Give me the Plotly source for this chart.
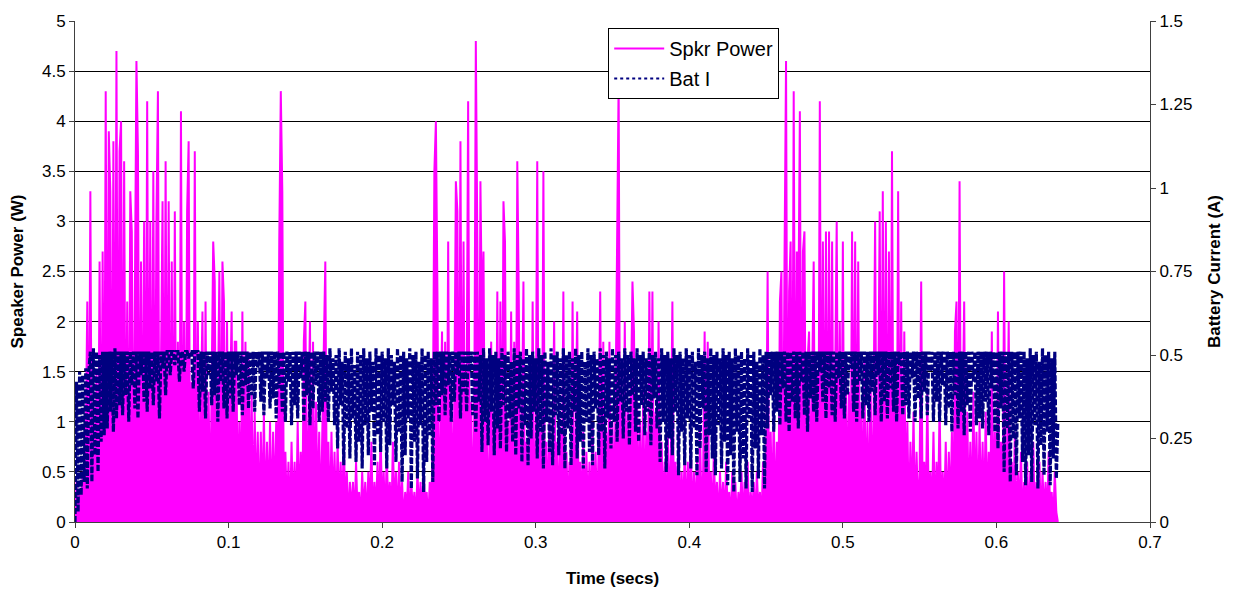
import plotly.graph_objects as go

# Sampling interval of the recorded signals (s)
SAMPLE_STEP = 0.001

# Speaker power, tenths of a watt, one value per sample
power_seg1 = [
    0,4,0,3,1,5,0,8,22,1, 33,0,12,1,15,0,26,1,27,0, 43,1,39,33,0,38,1,47,0,37,
    40,0,36,1,22,0,33,29,0,25, 46,37,0,26,1,30,0,42,1,30, 0,35,1,30,43,0,16,32,0,36,
    1,32,0,26,0,31,1,18,0,41, 0,20,1,31,38,0,14,1,37,0, 20,1,12,21,0,22,1,13,0,15,
    28,24,0,11,25,1,26,22,0,20, 1,12,21,0,18,18,1,10,0,21, 1,18,0,17,1,13,0,11,1,9,
    0,9,1,11,0,8,1,10,0,9, 1,10,0,28,43,33,0,7,1,6, 0,8,1,6,0,10,1,7,0,18,
    22,0,11,20,1,18,0,12,1,9,
]
power_seg2 = [
    0,10,18,26,1,8,0,9,1,7, 0,8,1,6,0,9,1,5,0,4, 1,4,0,6,1,3,0,5,1,4,
    0,5,1,8,0,4,1,6,0,9, 1,5,0,7,1,4,0,8,1,5, 0,6,1,4,0,3,1,5,0,4,
    1,3,0,5,1,4,0,6,1,3, 0,4,1,9,35,40,23,0,9,19, 0,18,1,28,0,14,1,12,34,31,
    0,38,1,28,0,13,42,1,12,0, 11,48,28,0,34,20,27,1,10,0, 9,18,0,11,1,23,0,22,1,32,
    28,0,10,1,21,0,18,1,36,22, 0,9,24,1,8,0,11,1,22,0, 8,36,0,9,1,35,0,8,1,10,
    0,7,20,1,8,0,9,1,23,0,
]
power_seg3 = [
    7,1,6,0,22,1,8,21,0,6, 1,9,0,7,1,6,0,10,1,7, 0,8,23,1,18,0,9,1,18,0,
    10,1,12,33,44,0,13,1,20,0, 11,1,14,24,19,0,12,1,10,0, 13,1,9,0,23,1,23,0,11,1,
    20,0,8,1,6,0,9,1,7,22, 0,6,1,9,0,5,1,7,0,6, 1,8,0,5,1,6,0,9,1,5,
    19,0,18,1,5,0,7,1,4,0, 5,1,4,0,6,1,3,0,5,1, 4,0,3,1,5,0,4,1,6,0,
    3,1,4,0,5,1,3,0,6,1, 4,25,0,9,1,11,0,8,1,22, 25,0,26,46,1,23,28,0,43,1,
    27,20,41,0,27,29,1,16,19,0,
]
power_seg4 = [
    14,26,0,15,1,42,0,28,1,29, 0,29,1,28,0,14,30,1,20,0, 28,0,15,1,13,0,29,1,28,0,
    26,1,12,0,16,1,10,0,15,1, 11,30,0,12,31,0,33,1,30,0, 27,0,37,1,12,0,33,1,22,0,
    19,1,10,0,8,1,11,0,7,1, 5,24,0,6,1,13,0,5,1,9, 0,6,1,12,0,5,1,8,0,7,
    1,9,0,19,22,1,34,0,10,22, 0,11,1,8,0,13,1,9,0,10, 1,8,0,11,1,7,0,19,1,9,
    0,21,1,8,0,25,1,7,20,0, 6,1,9,0,5,1,7,0,4,1, 6,0,5,1,8,0,4,1,6,0,
    5,1,4,0,7,1,3,0,5,1, 0,
]

# Battery current, hundredths of an amp, one value per sample
bat_seg1 = [
    0,42,3,45,8,44,12,46,10,45, 51,12,52,20,51,15,50,24,51,26, 51,28,51,33,51,27,52,31,51,35,
    51,32,51,38,51,30,51,41,51,34, 51,31,51,44,51,36,51,33,51,40, 51,35,51,42,51,31,51,46,51,38,
    51,51,44,51,51,47,51,51,42,51, 51,45,51,51,49,51,51,40,51,51, 51,33,51,39,51,31,51,44,51,35,
    51,38,51,30,51,42,51,34,51,31, 51,37,51,33,51,44,51,35,51,32, 51,41,51,34,51,38,51,33,51,46,
    51,36,51,32,51,43,51,34,51,37, 51,31,51,40,51,33,51,30,51,42, 51,29,51,35,51,31,51,43,51,30,
    51,38,51,29,51,34,51,41,51,30,
]
bat_seg2 = [
    51,33,51,36,50,30,52,39,49,29, 50,22,52,35,48,17,51,28,49,19, 52,31,47,18,51,24,50,16,52,29,
    49,20,51,33,48,17,52,26,50,21, 51,30,49,16,52,23,50,35,48,18, 52,27,50,12,51,20,49,31,52,10,
    50,24,51,13,48,29,52,9,50,18, 51,26,49,12,51,35,51,30,51,38, 51,32,51,41,51,30,51,36,51,44,
    51,31,51,39,51,33,51,45,51,32, 51,27,51,36,50,21,52,30,49,23, 52,33,50,20,51,28,49,22,52,35,
    50,21,51,31,48,24,52,20,50,34, 51,18,49,29,52,17,50,25,51,33, 49,19,52,27,50,16,51,30,48,21,
    52,17,50,32,51,20,49,26,52,16,
]
bat_seg3 = [
    50,28,51,17,49,33,52,19,50,24, 51,16,48,30,52,21,50,17,51,34, 49,20,52,27,50,16,51,31,49,22,
    52,30,50,24,51,36,49,25,52,33, 50,23,51,38,49,27,52,24,50,35, 51,26,49,33,52,23,50,37,51,28,
    49,18,52,30,50,15,51,25,49,20, 52,33,50,14,51,27,49,17,52,31, 50,16,51,28,48,14,52,22,50,34,
    51,15,49,26,52,19,50,14,51,29, 49,16,52,24,50,11,51,20,49,9, 52,27,50,12,51,19,49,10,52,31,
    50,9,51,22,48,13,52,26,50,10, 51,28,51,38,51,27,51,33,51,29, 51,40,51,30,51,27,51,36,51,31,
    51,28,51,42,51,32,51,27,51,37,
]
bat_seg4 = [
    51,33,51,30,51,45,51,36,51,31, 51,40,51,32,51,30,51,43,51,34, 51,31,51,38,51,46,51,33,51,30,
    51,42,51,31,51,35,51,30,51,39, 51,32,51,44,51,30,51,36,51,31, 51,40,51,33,51,30,51,47,51,32,
    51,35,51,31,51,43,51,30,51,37, 51,31,51,39,51,32,51,45,51,30, 51,36,51,30,51,41,51,29,51,34,
    51,27,51,38,51,28,51,33,51,26, 51,35,51,27,51,42,51,29,51,31, 51,28,51,36,51,26,51,40,51,27,
    51,22,51,34,51,15,51,28,51,12, 51,25,51,14,51,31,51,18,51,11, 49,20,52,12,50,29,51,10,48,23,
    52,14,50,27,51,11,49,19,51,13, 30,
]

power = [v / 10 for v in power_seg1 + power_seg2 + power_seg3 + power_seg4]
bat = [v / 100 for v in bat_seg1 + bat_seg2 + bat_seg3 + bat_seg4]
time = [round(i * SAMPLE_STEP, 4) for i in range(len(power))]

x_ticks = [0, 0.1, 0.2, 0.3, 0.4, 0.5, 0.6, 0.7]

FONT = "Liberation Sans, Arial, sans-serif"
MAGENTA = "#FF00FF"
NAVY = "#000080"

fig = go.Figure()
# dense power trace (filled under the line so the sample forest reads as a solid mass)
fig.add_trace(go.Scatter(
    x=time, y=power, name="Spkr Power", mode="lines", fill="tozeroy",
    fillcolor=MAGENTA, line=dict(color=MAGENTA, width=2), showlegend=False,
))
fig.add_trace(go.Scatter(
    x=time, y=bat, name="Bat I", mode="lines", yaxis="y2",
    line=dict(color=NAVY, width=3.2, dash="6px,2px"), showlegend=False,
))
# legend entries (no data points)
fig.add_trace(go.Scatter(
    x=[None], y=[None], name="Spkr Power", mode="lines",
    line=dict(color=MAGENTA, width=2), legendgroup="p",
))
fig.add_trace(go.Scatter(
    x=[None], y=[None], name="Bat I", mode="lines", yaxis="y2",
    line=dict(color=NAVY, width=2, dash="3px,3px"), legendgroup="b",
))

# The page body has an 8px margin, so the figure is sized to fit the window.
fig.update_layout(
    width=1225, height=582,
    margin=dict(l=67, r=83, t=13, b=68),
    paper_bgcolor="white", plot_bgcolor="white",
    font=dict(family=FONT, size=17, color="black"),
    showlegend=True,
    legend=dict(
        x=0.496, y=0.986, xanchor="left", yanchor="top",
        bgcolor="white", bordercolor="black", borderwidth=1,
        font=dict(family=FONT, size=20, color="black"),
        tracegroupgap=1, traceorder="grouped", itemwidth=50,
    ),
    xaxis=dict(
        range=[0, 0.7], tickvals=x_ticks, showgrid=False, zeroline=False,
        showline=True, linecolor="#404040", linewidth=1, automargin=False,
        ticks="outside", ticklen=5, tickcolor="#404040",
        title=dict(text="<b>Time (secs)</b>", standoff=20, font=dict(size=17)),
    ),
    yaxis=dict(
        range=[0, 5], dtick=0.5, showgrid=True, gridcolor="#000000", gridwidth=1,
        zeroline=False, showline=True, linecolor="#404040", linewidth=1, automargin=False,
        ticks="outside", ticklen=5, tickcolor="#404040",
        title=dict(text="<b>Speaker Power (W)</b>", standoff=14, font=dict(size=17)),
    ),
    yaxis2=dict(
        range=[0, 1.5], dtick=0.25, overlaying="y", side="right",
        showgrid=False, zeroline=False, showline=True, linecolor="#404040", linewidth=1,
        automargin=False, ticks="outside", ticklen=5, tickcolor="#404040",
        title=dict(text="<b>Battery Current (A)</b>", standoff=16, font=dict(size=17)),
    ),
)

fig.write_html("out.html")
